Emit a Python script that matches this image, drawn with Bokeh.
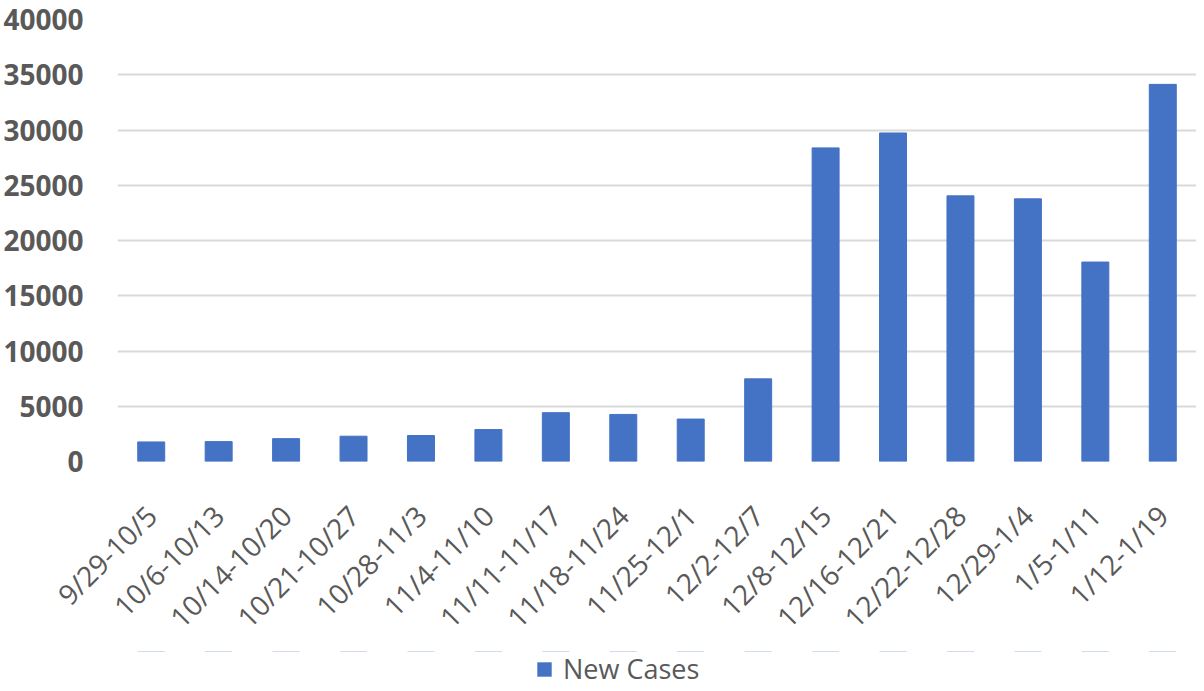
import math
from bokeh.plotting import figure
from bokeh.layouts import column
from bokeh.models import FactorRange, Range1d, FixedTicker, Legend, LegendItem, ColumnDataSource, BasicTickFormatter
from bokeh.embed import file_html
from bokeh.resources import INLINE

weeks = ["9/29-10/5", "10/6-10/13", "10/14-10/20", "10/21-10/27", "10/28-11/3",
         "11/4-11/10", "11/11-11/17", "11/18-11/24", "11/25-12/1", "12/2-12/7",
         "12/8-12/15", "12/16-12/21", "12/22-12/28", "12/29-1/4", "1/5-1/11", "1/12-1/19"]
new_cases = [1770, 1800, 2070, 2290, 2350, 2890, 4420, 4260, 3840, 7480,
             28380, 29730, 24040, 23770, 18050, 34130]
y_ticks = [0, 5000, 10000, 15000, 20000, 25000, 30000, 35000, 40000]
series_name = "New Cases"

TEXT = "#595959"
BAR = "#4472C4"
GRID = "#D9D9D9"

src = ColumnDataSource(dict(week=weeks, cases=new_cases))

p = figure(x_range=FactorRange(*weeks, range_padding=0), y_range=Range1d(0, 40000),
           width=1196, height=651, output_backend="svg", toolbar_location=None,
           min_border_left=108, min_border_right=0, min_border_top=19, min_border_bottom=190)

r = p.vbar(x="week", top="cases", width=0.4, source=src, fill_color=BAR, line_color=BAR)

p.outline_line_color = None
p.xgrid.grid_line_color = None
p.ygrid.grid_line_color = GRID
p.ygrid.grid_line_width = 2

p.yaxis.ticker = FixedTicker(ticks=y_ticks)
p.yaxis.formatter = BasicTickFormatter(use_scientific=False)
p.yaxis.axis_line_color = None
p.yaxis.major_tick_line_color = None
p.yaxis.minor_tick_line_color = None
p.yaxis.major_label_text_font = "Open Sans"
p.yaxis.major_label_text_font_style = "bold"
p.yaxis.major_label_text_font_size = "28px"
p.yaxis.major_label_text_color = TEXT
p.yaxis.major_label_standoff = 28

p.xaxis.axis_line_color = None
p.xaxis.major_tick_line_color = None
p.xaxis.minor_tick_line_color = None
p.xaxis.major_label_orientation = math.pi / 4
p.xaxis.major_label_text_font = "Open Sans"
p.xaxis.major_label_text_font_size = "28px"
p.xaxis.major_label_text_color = TEXT
p.xaxis.major_label_standoff = 43

# legend strip: the same series as zero-height bars outside the visible range,
# so only its legend entry shows
pl = figure(width=1196, height=37, output_backend="svg", toolbar_location=None,
            x_range=p.x_range, y_range=Range1d(-200, -199),
            x_axis_type=None, y_axis_type=None,
            min_border_left=0, min_border_right=0, min_border_top=0, min_border_bottom=0)
pl.outline_line_color = None
pl.grid.grid_line_color = None
rl = pl.vbar(x="week", top="cases", bottom="cases", width=0.4, source=src,
             fill_color=BAR, line_color=None)
legend = Legend(items=[LegendItem(label=series_name, renderers=[rl])],
                orientation="horizontal", location=(418, 1),
                label_text_font="Open Sans", label_text_font_size="27px",
                label_text_color=TEXT, glyph_width=18, glyph_height=18,
                border_line_color=None, background_fill_alpha=0, margin=0, padding=0,
                label_standoff=10)
pl.add_layout(legend, "center")

layout = column(p, pl, spacing=0)
open("out.html", "w").write(file_html(layout, INLINE))
